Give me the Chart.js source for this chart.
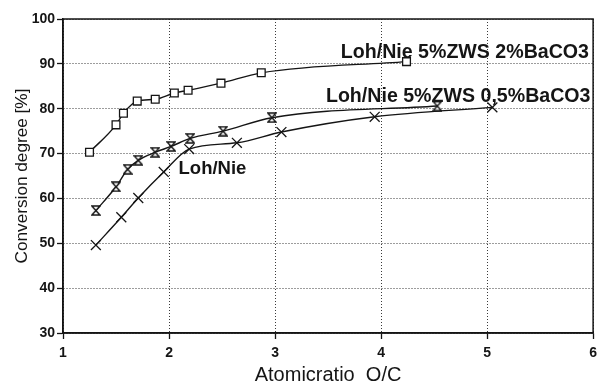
<!DOCTYPE html>
<html>
<head>
<meta charset="utf-8">
<script src="https://cdn.jsdelivr.net/npm/chart.js@4/dist/chart.umd.min.js"></script>
<style>
  html, body { margin: 0; padding: 0; background: #fff; }
  #wrap { width: 603px; height: 385px; }
</style>
</head>
<body>
<div id="wrap"><canvas id="chart" width="603" height="385"></canvas></div>
<script>
// values
const baco3HighX = [1.25, 1.50, 1.57, 1.70, 1.87, 2.05, 2.18, 2.49, 2.87, 4.24];
const baco3HighY = [70.3, 76.4, 79.0, 81.7, 82.1, 83.5, 84.1, 85.7, 88.0, 90.5];

const baco3LowX = [1.31, 1.50, 1.61, 1.71, 1.87, 2.02, 2.20, 2.51, 2.97, 4.53];
const baco3LowY = [57.3, 62.6, 66.5, 68.5, 70.3, 71.6, 73.4, 75.0, 78.0, 80.6];

const plainX = [1.31, 1.55, 1.71, 1.95, 2.19, 2.64, 3.06, 3.94, 5.05];
const plainY = [49.6, 55.8, 60.1, 65.9, 71.0, 72.4, 74.8, 78.2, 80.3];

const seriesNames = ['Loh/Nie 5%ZWS 2%BaCO3', 'Loh/Nie 5%ZWS 0,5%BaCO3', 'Loh/Nie'];
// where each curve name is written, in data units (left edge, middle)
const nameAtX = [3.62, 3.48, 2.09];
const nameAtY = [92.6, 82.6, 66.5];

const xTicks = [1, 2, 3, 4, 5, 6];
const yTicks = [30, 40, 50, 60, 70, 80, 90, 100];

const ink = '#151515';

function toPoints(xs, ys) {
  return xs.map((x, i) => ({ x: x, y: ys[i] }));
}

function makeHourglass(w, h) {
  const c = document.createElement('canvas');
  c.width = w;
  c.height = h;
  const g = c.getContext('2d');
  g.beginPath();
  g.moveTo(1, 1);
  g.lineTo(w - 1, 1);
  g.lineTo(1, h - 1);
  g.lineTo(w - 1, h - 1);
  g.closePath();
  g.fillStyle = '#fff';
  g.fill();
  g.lineWidth = 1.4;
  g.strokeStyle = ink;
  g.stroke();
  return c;
}

const curveNames = {
  id: 'curveNames',
  afterDatasetsDraw(chart) {
    const ctx = chart.ctx;
    const xs = chart.scales.x;
    const ys = chart.scales.y;
    ctx.save();
    ctx.fillStyle = ink;
    ctx.textAlign = 'left';
    ctx.textBaseline = 'middle';
    seriesNames.forEach((name, i) => {
      // the long names are printed a little wider in the scan
      const size = name.length > 10 ? 19.6 : 18.5;
      ctx.font = 'bold ' + size + 'px "Liberation Sans", Arial, sans-serif';
      ctx.fillText(name, xs.getPixelForValue(nameAtX[i]), ys.getPixelForValue(nameAtY[i]));
    });
    ctx.restore();
  }
};

const frame = {
  id: 'frame',
  afterDraw(chart) {
    const a = chart.chartArea;
    const ctx = chart.ctx;
    ctx.save();
    ctx.strokeStyle = ink;
    ctx.lineWidth = 1.5;
    ctx.strokeRect(a.left, a.top, a.right - a.left, a.bottom - a.top);
    ctx.restore();
  }
};

const lineStyle = {
  borderColor: ink,
  borderWidth: 1.4,
  cubicInterpolationMode: 'monotone',
  pointBackgroundColor: '#fff',
  pointBorderColor: ink,
  pointBorderWidth: 1.3,
  fill: false,
};

const tickFont = { family: '"Liberation Sans", Arial, sans-serif', size: 14, weight: 'bold' };
const titleFont = { family: '"Liberation Sans", Arial, sans-serif', size: 17.2, lineHeight: 1 };

const gridStyle = { color: '#3a3a3a', lineWidth: 1, tickLength: 6, tickColor: ink, tickWidth: 1.3 };
const borderStyle = { color: ink, width: 1.5, dash: [1, 2] };

new Chart(document.getElementById('chart').getContext('2d'), {
  type: 'line',
  data: {
    datasets: [
      Object.assign({
        label: seriesNames[0],
        data: toPoints(baco3HighX, baco3HighY),
        pointStyle: 'rect',
        pointRadius: 5.5,
      }, lineStyle),
      Object.assign({
        label: seriesNames[1],
        data: toPoints(baco3LowX, baco3LowY),
        pointStyle: makeHourglass(10, 11),
        pointRadius: 5,
      }, lineStyle),
      Object.assign({
        label: seriesNames[2],
        data: toPoints(plainX, plainY),
        pointStyle: 'crossRot',
        pointRadius: 7,
      }, lineStyle),
    ],
  },
  options: {
    responsive: false,
    animation: false,
    layout: {
      padding: { left: 0, right: 3, top: 19, bottom: 0 },
    },
    scales: {
      x: {
        type: 'linear',
        min: 1,
        max: 6,
        afterBuildTicks: (scale) => { scale.ticks = xTicks.map(v => ({ value: v })); },
        afterFit: (scale) => { scale.height = 52; },
        ticks: { color: ink, font: tickFont, padding: 6, maxRotation: 0 },
        grid: gridStyle,
        border: borderStyle,
        title: {
          display: true,
          text: 'Atomicratio  O/C',
          color: ink,
          font: Object.assign({}, titleFont, { size: 20 }),
          padding: { top: 0, bottom: 0 },
        },
      },
      y: {
        type: 'linear',
        min: 30,
        max: 100,
        afterBuildTicks: (scale) => { scale.ticks = yTicks.map(v => ({ value: v })); },
        afterFit: (scale) => { scale.width = 63; },
        ticks: { color: ink, font: tickFont, padding: 2 },
        grid: gridStyle,
        border: borderStyle,
        title: {
          display: true,
          text: 'Conversion degree [%]',
          color: ink,
          font: titleFont,
          padding: { top: 14, bottom: 0 },
        },
      },
    },
    plugins: {
      legend: { display: false },
      tooltip: { enabled: false },
    },
  },
  plugins: [curveNames, frame],
});
</script>
</body>
</html>
